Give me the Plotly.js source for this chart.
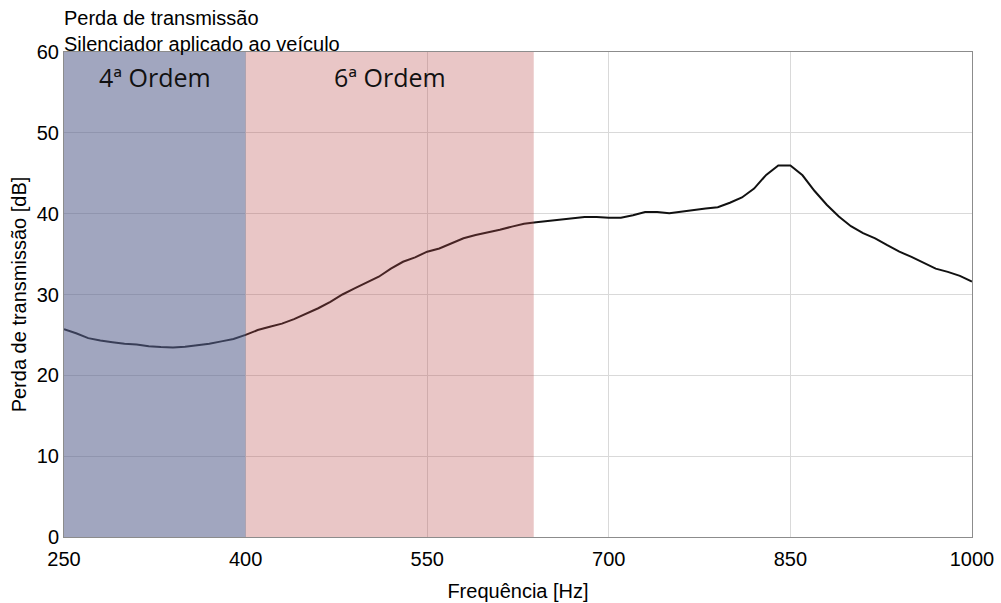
<!DOCTYPE html>
<html>
<head>
<meta charset="utf-8">
<script src="https://cdn.plot.ly/plotly-3.0.1.min.js"></script>
<style>
  html, body { margin: 0; padding: 0; background: #fff; }
  #chart { width: 1001px; height: 603px; }
</style>
</head>
<body>
<div id="chart"></div>
<script>
// Transmission loss of the muffler, sampled every 10 Hz
const frequencyHz = [
  250, 260, 270, 280, 290, 300, 310, 320, 330, 340,
  350, 360, 370, 380, 390, 400, 410, 420, 430, 440,
  450, 460, 470, 480, 490, 500, 510, 520, 530, 540,
  550, 560, 570, 580, 590, 600, 610, 620, 630, 640,
  650, 660, 670, 680, 690, 700, 710, 720, 730, 740,
  750, 760, 770, 780, 790, 800, 810, 820, 830, 840,
  850, 860, 870, 880, 890, 900, 910, 920, 930, 940,
  950, 960, 970, 980, 990, 1000
];
const lossDb = [
  25.7, 25.2, 24.6, 24.3, 24.1, 23.9, 23.8, 23.6, 23.5, 23.45,
  23.55, 23.7, 23.9, 24.2, 24.5, 25.0, 25.6, 26.0, 26.4, 26.95,
  27.6, 28.3, 29.1, 30.0, 30.75, 31.45, 32.2, 33.2, 34.05, 34.6,
  35.3, 35.7, 36.3, 36.95, 37.35, 37.65, 38.0, 38.4, 38.75, 38.95,
  39.1, 39.3, 39.45, 39.6, 39.6, 39.5, 39.5, 39.8, 40.2, 40.2,
  40.05, 40.25, 40.5, 40.65, 40.8, 41.35, 42.0, 43.1, 44.8, 45.95,
  45.95, 44.75, 42.8, 41.1, 39.65, 38.45, 37.6, 36.95, 36.1, 35.3,
  34.65, 33.95, 33.2, 32.8, 32.3, 31.6
];

// Engine-order bands (Hz)
const bandNames = ["4ª Ordem", "6ª Ordem"];
const bandStart = [250, 400];
const bandEnd = [400, 638];
const bandFill = ["rgba(88,97,142,0.565)", "rgba(187,78,78,0.32)"];

const xTicks = [250, 400, 550, 700, 850, 1000];
const yTicks = [0, 10, 20, 30, 40, 50, 60];

const sans = "Liberation Sans, Arial, sans-serif";
const axisFont = { family: sans, size: 20, color: "#000" };

const shapes = bandNames.map((_, i) => ({
  type: "rect", layer: "above", xref: "x", yref: "y",
  x0: bandStart[i], x1: bandEnd[i], y0: 0, y1: 60,
  fillcolor: bandFill[i], line: { width: 0 }
}));

const annotations = bandNames.map((name, i) => ({
  xref: "x", yref: "y",
  x: (bandStart[i] + bandEnd[i]) / 2, y: 56.9,
  text: name, showarrow: false,
  font: { family: "Open Sans, Noto Sans, sans-serif", size: 25, color: "#111" }
}));

annotations.push(
  { xref: "paper", yref: "paper", x: 0, y: 1.0701, xanchor: "left", yanchor: "middle", xshift: -2,
    text: "Perda de transmissão", showarrow: false, align: "left",
    font: { family: sans, size: 20, color: "#000" } },
  { xref: "paper", yref: "paper", x: 0, y: 1.0160, xanchor: "left", yanchor: "middle", xshift: -2,
    text: "Silenciador aplicado ao veículo", showarrow: false, align: "left",
    font: { family: sans, size: 20, color: "#000" } }
);

const trace = {
  x: frequencyHz, y: lossDb, type: "scatter", mode: "lines",
  line: { color: "#111", width: 2 }, hoverinfo: "x+y"
};

const layout = {
  width: 1001, height: 603,
  margin: { l: 64, r: 29, t: 52, b: 66 },
  paper_bgcolor: "#fff", plot_bgcolor: "#fff",
  showlegend: false,
  xaxis: {
    range: [250, 1000], tickvals: xTicks, ticktext: xTicks.map(String),
    showgrid: true, gridcolor: "#d9d9d9", gridwidth: 1,
    showline: true, linecolor: "#8c8c8c", linewidth: 1, mirror: true,
    zeroline: false, ticks: "", tickfont: axisFont, ticklabelstandoff: 4,
    title: { text: "Frequência [Hz]", font: { family: sans, size: 20, color: "#000" }, standoff: 14 }
  },
  yaxis: {
    range: [0, 60], tickvals: yTicks, ticktext: yTicks.map(String),
    showgrid: true, gridcolor: "#d9d9d9", gridwidth: 1,
    showline: true, linecolor: "#8c8c8c", linewidth: 1, mirror: true,
    zeroline: false, ticks: "", tickfont: axisFont, ticklabelstandoff: 0,
    title: { text: "Perda de transmissão [dB]", font: { family: sans, size: 20, color: "#000" }, standoff: 4 }
  },
  shapes: shapes,
  annotations: annotations
};

Plotly.newPlot("chart", [trace], layout, { staticPlot: true, displayModeBar: false });
</script>
</body>
</html>
